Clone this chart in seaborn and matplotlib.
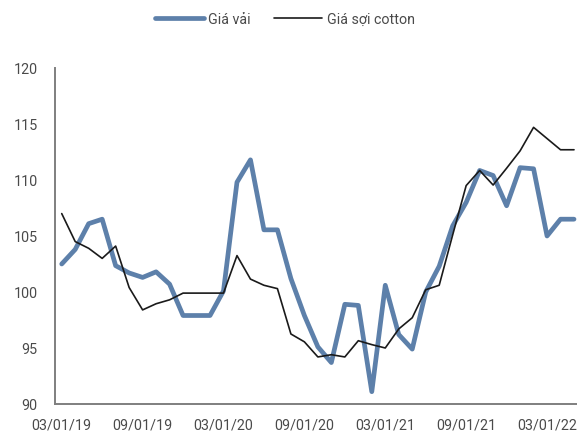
import matplotlib
matplotlib.use("Agg")
import matplotlib.pyplot as plt
import seaborn as sns
import pandas as pd
import numpy as np
from matplotlib.ticker import FixedLocator

# ---- data ----
months = pd.date_range("2019-03-01", "2022-05-01", freq="MS")
gia_vai = [102.5, 103.8, 106.1, 106.5, 102.35, 101.7, 101.3, 101.8, 100.7, 97.9,
           97.9, 97.9, 100.1, 109.8, 111.8, 105.55, 105.55, 101.2, 97.9, 95.1,
           93.7, 98.9, 98.8, 91.1, 100.6, 96.2, 94.9, 100.0, 102.3, 105.9,
           108.0, 110.85, 110.4, 107.7, 111.1, 111.0, 105.0, 106.5, 106.5]
gia_soi = [107.0, 104.5, 103.9, 103.0, 104.1, 100.4, 98.4, 98.95, 99.3, 99.9,
           99.9, 99.9, 99.9, 103.25, 101.15, 100.6, 100.3, 96.25, 95.55, 94.2,
           94.4, 94.2, 95.65, 95.3, 95.0, 96.7, 97.7, 100.2, 100.6, 105.1,
           109.5, 110.85, 109.55, 111.05, 112.6, 114.7, 113.7, 112.7, 112.7]
tick_labels = ["03/01/19", "09/01/19", "03/01/20", "09/01/20", "03/01/21", "09/01/21", "03/01/22"]
series_names = ["Giá vải", "Giá sợi cotton"]

df = pd.DataFrame({"idx": np.arange(len(months)), series_names[0]: gia_vai, series_names[1]: gia_soi})

sns.set_style("white")
plt.rcParams["font.family"] = ["Roboto", "DejaVu Sans"]

fig = plt.figure(figsize=(5.77, 4.35), dpi=100)
ax = fig.add_axes([0.0953, 0.069, 0.9112, 0.7724])

sns.lineplot(data=df, x="idx", y=series_names[0], ax=ax, color="#5d80aa", linewidth=3.4,
             label=series_names[0])
sns.lineplot(data=df, x="idx", y=series_names[1], ax=ax, color="#1a1a1a", linewidth=1.2,
             label=series_names[1])

ax.set_xlim(-0.5, len(months) - 0.5)
ax.set_ylim(90, 120)
ax.set_yticks(np.arange(90, 121, 5))
ax.set_xticks(np.arange(0, len(months), 6))
ax.set_xticklabels(tick_labels)
ax.xaxis.set_minor_locator(FixedLocator(np.arange(-0.5, len(months), 6)))
ax.set_xlabel("")
ax.set_ylabel("")

for s in ["top", "right"]:
    ax.spines[s].set_visible(False)
for s in ["left", "bottom"]:
    ax.spines[s].set_color("#7f7f7f")
    ax.spines[s].set_linewidth(1.4)

txt_color = "#4a4a4a"
ax.tick_params(axis="x", which="major", length=0, pad=10, labelsize=10.3, labelcolor=txt_color)
ax.tick_params(axis="x", which="minor", direction="in", length=4, width=1.1, color="#404040")
ax.tick_params(axis="y", which="major", direction="inout", length=7, width=1.1, color="#404040",
               pad=9, labelsize=10.3, labelcolor=txt_color)

leg = ax.get_legend()
leg.remove()
handles, labels = ax.get_legend_handles_labels()
fig.legend(handles, labels, loc="center", bbox_to_anchor=(0.494, 0.954), ncol=2, frameon=False,
           fontsize=10.3, handlelength=3.4, handletextpad=0.3, columnspacing=1.6,
           labelcolor=txt_color)

fig.savefig("out.png", dpi=100)
